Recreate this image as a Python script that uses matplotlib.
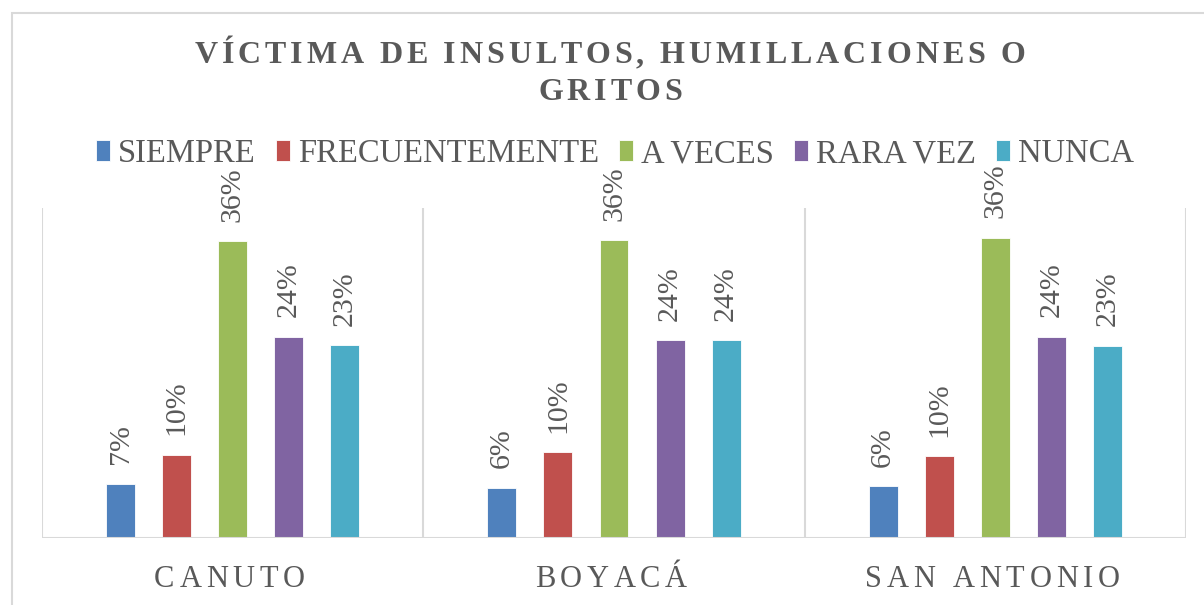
import matplotlib
matplotlib.use("Agg")
import matplotlib.pyplot as plt
import numpy as np
from matplotlib.font_manager import FontProperties
from matplotlib.textpath import TextToPath
from matplotlib.transforms import offset_copy, blended_transform_factory
from matplotlib.patches import Rectangle

plt.rcParams["font.family"] = ["Liberation Serif", "DejaVu Serif"]

# data (shares of respondents)
sites = ["CANUTO", "BOYACÁ", "SAN ANTONIO"]
series = ["SIEMPRE", "FRECUENTEMENTE", "A VECES", "RARA VEZ", "NUNCA"]
siempre = [0.066, 0.061, 0.063]
frecuentemente = [0.101, 0.104, 0.099]
a_veces = [0.360, 0.361, 0.364]
rara_vez = [0.244, 0.240, 0.244]
nunca = [0.234, 0.240, 0.233]
values = [siempre, frecuentemente, a_veces, rara_vez, nunca]
colors = ["#4F81BD", "#C0504D", "#9BBB59", "#8064A2", "#4BACC6"]

TXT = "#595959"
GRID = "#D9D9D9"

fig = plt.figure(figsize=(12.04, 6.05), dpi=100)
ax = fig.add_axes([42 / 1204, 67 / 605, 1144 / 1204, 330 / 605])

x = np.arange(len(sites))
step, width = 0.147, 0.076
for i, (name, vals, col) in enumerate(zip(series, values, colors)):
    pos = x + (i - 2) * step
    bars = ax.bar(pos, vals, width, color=col, edgecolor="white", linewidth=0.6, label=name)
    for b, v in zip(bars, vals):
        ax.annotate(f"{v:.0%}", (b.get_x() + b.get_width() / 2, b.get_height()),
                    xytext=(0, 14), textcoords="offset points", rotation=90,
                    ha="center", va="bottom", fontsize=21.5, color=TXT)

ax.set_xlim(-0.5, 2.5)
ax.set_ylim(0, 0.40)
for xv in [-0.5, 0.5, 1.5, 2.5]:
    ax.axvline(xv, color=GRID, lw=1.5, zorder=0)
for s in ax.spines.values():
    s.set_visible(False)
ax.axhline(0, color=GRID, lw=1.5, zorder=3)
ax.set_xticks([])
ax.set_yticks([])

# letter-spaced text, drawn glyph by glyph
t2p = TextToPath()


def char_w(c, prop):
    w2 = t2p.get_text_width_height_descent("x" + c + "x", prop, ismath=False)[0]
    w0 = t2p.get_text_width_height_descent("xx", prop, ismath=False)[0]
    return w2 - w0


def spaced_text(xc, yb, s, transform, spacing, prop):
    widths = [char_w(c, prop) for c in s]
    pos = -(sum(widths) + spacing * (len(s) - 1)) / 2
    for c, w in zip(s, widths):
        tr = offset_copy(transform, fig=fig, x=pos, y=0, units="points")
        fig.text(xc, yb, c, transform=tr, fontproperties=prop, color=TXT,
                 ha="left", va="baseline")
        pos += w + spacing


title_prop = FontProperties(family="Liberation Serif", weight="bold", size=23)
spaced_text(610 / 1204, 1 - 63 / 605, "VÍCTIMA DE INSULTOS, HUMILLACIONES O",
            fig.transFigure, 2.8, title_prop)
spaced_text(610 / 1204, 1 - 100 / 605, "GRITOS", fig.transFigure, 2.8, title_prop)

cat_prop = FontProperties(family="Liberation Serif", size=22)
blend = blended_transform_factory(ax.transData, fig.transFigure)
for xi, name in zip(x, sites):
    spaced_text(xi - 0.008, 1 - 587 / 605, name, blend, 3.4, cat_prop)

fig.legend(loc="center", bbox_to_anchor=(615 / 1204, 1 - 154 / 605), ncol=5,
           frameon=False, fontsize=23.5, handlelength=0.42, handleheight=0.6,
           handletextpad=0.25, columnspacing=0.62, labelcolor=TXT)

# chart border
fig.patches.append(Rectangle((12 / 1204, -0.1), 2, 1.1 - 13 / 605, transform=fig.transFigure,
                             fill=False, edgecolor=GRID, lw=1.5))

fig.savefig("out.png", dpi=100)
